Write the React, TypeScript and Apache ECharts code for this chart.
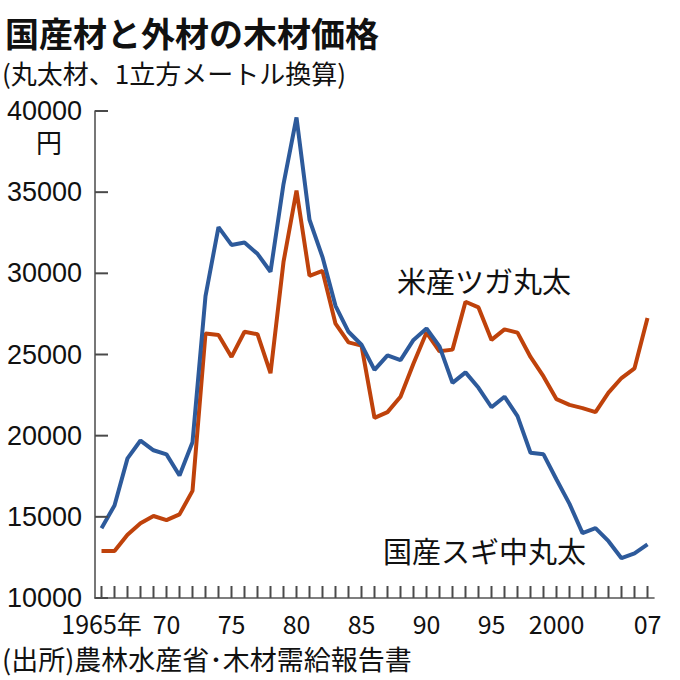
import React, { useEffect, useRef } from "react";
import * as echarts from "echarts";

const years = [
  "1965", "1966", "1967", "1968", "1969", "1970", "1971", "1972", "1973", "1974",
  "1975", "1976", "1977", "1978", "1979", "1980", "1981", "1982", "1983", "1984",
  "1985", "1986", "1987", "1988", "1989", "1990", "1991", "1992", "1993", "1994",
  "1995", "1996", "1997", "1998", "1999", "2000", "2001", "2002", "2003", "2004",
  "2005", "2006", "2007",
];

// 国産スギ中丸太
const sugi = [
  14300, 15700, 18600, 19700, 19100, 18850, 17550, 19600, 28600, 32850,
  31750, 31900, 31200, 30100, 35500, 39600, 33300, 31000, 28000, 26400,
  25600, 24050, 24950, 24650, 25900, 26600, 25500, 23250, 23900, 22950,
  21750, 22400, 21200, 18950, 18850, 17300, 15800, 14000, 14300, 13500,
  12450, 12750, 13300,
];

// 米産ツガ丸太
const tsuga = [
  12900, 12900, 13900, 14600, 15050, 14800, 15150, 16600, 26300, 26200,
  24850, 26400, 26250, 23850, 30700, 35100, 29850, 30150, 26900, 25750,
  25550, 21100, 21450, 22400, 24450, 26350, 25200, 25300, 28250, 27900,
  25900, 26550, 26350, 24850, 23650, 22250, 21900, 21700, 21450, 22650,
  23550, 24150, 27250,
];

const xTickLabels: Record<string, string> = {
  "1965": "1965年",
  "1970": "70",
  "1975": "75",
  "1980": "80",
  "1985": "85",
  "1990": "90",
  "1995": "95",
  "2000": "2000",
  "2007": "07",
};

const yTicks = [10000, 15000, 20000, 25000, 30000, 35000, 40000];

const yMin = 10000;
const yMax = 40000;
const yStep = 5000;

const BLUE = "#2d5a9b";
const RED = "#bf420b";
const AXIS = "#555";
const TICK = "#4a4a4a";
const TEXT = "#111";
const CJK = "'Noto Sans CJK JP', 'Noto Sans', sans-serif";
const NUM = "'Liberation Sans', 'Noto Sans', sans-serif";

export default function App() {
  const ref = useRef<HTMLDivElement>(null);

  useEffect(() => {
    if (!ref.current) return;
    const chart = echarts.init(ref.current, undefined, { renderer: "svg" });
    chart.setOption({
      animation: false,
      backgroundColor: "#fff",
      grid: { left: 95, top: 111, width: 559, height: 487 },
      xAxis: {
        type: "category",
        data: years,
        boundaryGap: true,
        axisLine: { show: true, lineStyle: { color: AXIS, width: 1.6 } },
        axisTick: { show: false },
        axisLabel: {
          interval: (_i: number, v: string) => v in xTickLabels,
          formatter: (v: string) => xTickLabels[v] ?? "",
          color: TEXT,
          fontSize: 25,
          lineHeight: 24,
          fontFamily: CJK,
          margin: 13,
        },
        splitLine: { show: false },
      },
      yAxis: {
        type: "value",
        min: yMin,
        max: yMax,
        interval: yStep,
        axisLine: { show: true, lineStyle: { color: AXIS, width: 1.6 } },
        axisTick: { show: false },
        axisLabel: {
          formatter: (v: number) => String(v),
          color: TEXT,
          fontSize: 27,
          lineHeight: 22,
          fontFamily: NUM,
          margin: 13,
        },
        splitLine: { show: false },
      },
      series: [
        {
          name: "xTicks",
          type: "custom",
          data: years.map((y) => [y, yMin]),
          silent: true,
          clip: false,
          z: 5,
          renderItem: (_params: any, api: any) => {
            const p = api.coord([api.value(0), yMin]);
            return {
              type: "line",
              shape: { x1: p[0], y1: p[1], x2: p[0], y2: p[1] - 12 },
              style: { stroke: TICK, lineWidth: 2 },
            };
          },
        },
        {
          name: "yTicks",
          type: "custom",
          data: yTicks.map((v) => [years[0], v]),
          silent: true,
          clip: false,
          z: 5,
          renderItem: (params: any, api: any) => {
            const p = api.coord([0, api.value(1)]);
            const x0 = params.coordSys.x;
            return {
              type: "line",
              shape: { x1: x0, y1: p[1], x2: x0 + 13, y2: p[1] },
              style: { stroke: TICK, lineWidth: 2 },
            };
          },
        },
        {
          name: "米産ツガ丸太",
          type: "line",
          data: tsuga,
          symbol: "none",
          lineStyle: { color: RED, width: 4 },
          z: 2,
        },
        {
          name: "国産スギ中丸太",
          type: "line",
          data: sugi,
          symbol: "none",
          lineStyle: { color: BLUE, width: 4 },
          z: 3,
        },
      ],
      graphic: [
        {
          type: "text",
          left: 5,
          top: 15,
          style: {
            text: "国産材と外材の木材価格",
            fontSize: 34,
            fontWeight: "bold",
            fontFamily: CJK,
            fill: TEXT,
          },
        },
        {
          type: "text",
          left: 2,
          top: 59,
          style: {
            text: "(丸太材、1立方メートル換算)",
            fontSize: 26,
            fontFamily: CJK,
            fill: TEXT,
          },
        },
        {
          type: "text",
          left: 36,
          top: 128,
          style: { text: "円", fontSize: 26, fontFamily: CJK, fill: TEXT },
        },
        {
          type: "text",
          left: 397,
          top: 265,
          style: { text: "米産ツガ丸太", fontSize: 29, fontFamily: CJK, fill: TEXT },
        },
        {
          type: "text",
          left: 383,
          top: 535,
          style: { text: "国産スギ中丸太", fontSize: 29, fontFamily: CJK, fill: TEXT },
        },
        {
          type: "text",
          left: 2,
          top: 645,
          style: {
            text: "(出所)農林水産省･木材需給報告書",
            fontSize: 27,
            fontFamily: CJK,
            fill: TEXT,
          },
        },
      ],
    });
    return () => chart.dispose();
  }, []);

  return (
    <div
      ref={ref}
      style={{ position: "absolute", left: 0, top: 0, width: 680, height: 680 }}
    />
  );
}
